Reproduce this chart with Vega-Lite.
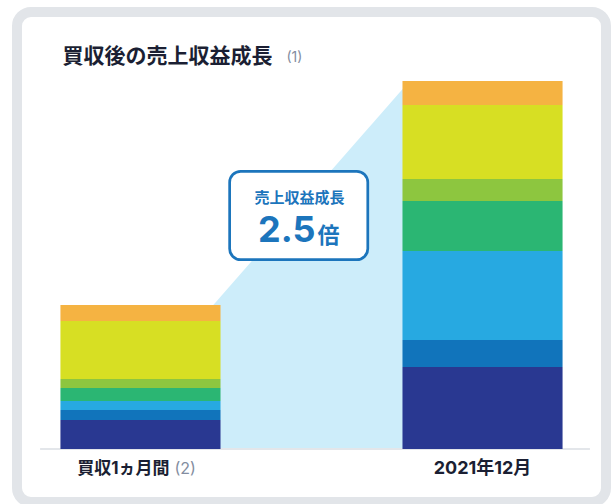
{
  "$schema": "https://vega.github.io/schema/vega-lite/v6.json",
  "width": 589,
  "height": 490,
  "autosize": {"type": "none"},
  "padding": {"left": 17, "top": 12, "right": 7, "bottom": 2},
  "background": "white",
  "config": {
    "view": {"stroke": "#e2e5e9", "strokeWidth": 10, "cornerRadius": 14, "fill": "white"},
    "text": {"font": "Inter, Noto Sans CJK JP"}
  },
  "datasets": {
    "revenue": [
      {"period": "買収1ヵ月間", "segment": "区分1", "k": 1, "value": 29},
      {"period": "買収1ヵ月間", "segment": "区分2", "k": 2, "value": 10},
      {"period": "買収1ヵ月間", "segment": "区分3", "k": 3, "value": 9},
      {"period": "買収1ヵ月間", "segment": "区分4", "k": 4, "value": 13},
      {"period": "買収1ヵ月間", "segment": "区分5", "k": 5, "value": 9},
      {"period": "買収1ヵ月間", "segment": "区分6", "k": 6, "value": 58},
      {"period": "買収1ヵ月間", "segment": "区分7", "k": 7, "value": 16},
      {"period": "2021年12月", "segment": "区分1", "k": 1, "value": 82},
      {"period": "2021年12月", "segment": "区分2", "k": 2, "value": 27},
      {"period": "2021年12月", "segment": "区分3", "k": 3, "value": 89},
      {"period": "2021年12月", "segment": "区分4", "k": 4, "value": 50},
      {"period": "2021年12月", "segment": "区分5", "k": 5, "value": 22},
      {"period": "2021年12月", "segment": "区分6", "k": 6, "value": 74},
      {"period": "2021年12月", "segment": "区分7", "k": 7, "value": 24}
    ]
  },
  "resolve": {"scale": {"x": "independent"}},
  "layer": [
    {
      "data": {"name": "revenue"},
      "transform": [{"aggregate": [{"op": "sum", "field": "value", "as": "total"}], "groupby": ["period"]}],
      "mark": {"type": "area", "color": "#cdedfa", "opacity": 1},
      "encoding": {
        "x": {"field": "period", "type": "nominal", "scale": {"type": "point", "domain": ["買収1ヵ月間", "2021年12月"], "padding": 1.118}, "axis": null},
        "y": {"field": "total", "type": "quantitative", "scale": {"domain": [-53, 437]}, "axis": null},
        "y2": {"datum": 0}
      }
    },
    {
      "layer": [
        {
          "data": {"values": [{"line": "baseline"}]},
          "mark": {"type": "rule", "color": "#e3e6ea", "strokeWidth": 2},
          "encoding": {
            "x": {"datum": "買収1ヵ月間", "type": "nominal", "bandPosition": -0.127, "scale": {"type": "band", "domain": ["買収1ヵ月間", "2021年12月"], "paddingInner": 0.532, "paddingOuter": 0.127}, "axis": null},
            "x2": {"datum": "2021年12月", "bandPosition": 1.171},
            "y": {"datum": 0, "type": "quantitative", "scale": {"domain": [-53, 437]}, "axis": null}
          }
        },
        {
          "data": {"name": "revenue"},
          "mark": {"type": "bar"},
          "encoding": {
            "x": {"field": "period", "type": "nominal", "scale": {"type": "band", "domain": ["買収1ヵ月間", "2021年12月"], "paddingInner": 0.532, "paddingOuter": 0.127}, "axis": null},
            "y": {"field": "value", "type": "quantitative", "stack": "zero", "scale": {"domain": [-53, 437]}, "axis": null},
            "color": {"field": "segment", "type": "nominal", "legend": null, "scale": {"domain": ["区分1", "区分2", "区分3", "区分4", "区分5", "区分6", "区分7"], "range": ["#293891", "#1174bb", "#27a9e1", "#2bb673", "#8dc63f", "#d7df23", "#f5b342"]}},
            "order": {"field": "k", "type": "quantitative"}
          }
        },
        {
          "data": {"values": [{"label": "売上収益成長", "growth": "2.5", "unit": "倍"}]},
          "layer": [
            {
              "mark": {"type": "rect", "fill": "white", "stroke": "#1c75bc", "strokeWidth": 2.7, "cornerRadius": 11},
              "encoding": {
                "x": {"datum": "買収1ヵ月間", "type": "nominal", "bandPosition": 1.057, "scale": {"type": "band", "domain": ["買収1ヵ月間", "2021年12月"], "paddingInner": 0.532, "paddingOuter": 0.127}, "axis": null},
                "x2": {"datum": "買収1ヵ月間", "bandPosition": 1.92},
                "y": {"datum": 277.7, "type": "quantitative", "scale": {"domain": [-53, 437]}, "axis": null},
                "y2": {"datum": 189.3}
              }
            },
            {
              "mark": {"type": "text", "align": "center", "baseline": "middle", "fontSize": 15, "fontWeight": "bold", "color": "#1c75bc"},
              "encoding": {
                "x": {"datum": "買収1ヵ月間", "type": "nominal", "bandPosition": 1.493, "scale": {"type": "band", "domain": ["買収1ヵ月間", "2021年12月"], "paddingInner": 0.532, "paddingOuter": 0.127}, "axis": null},
                "y": {"datum": 251.5, "type": "quantitative", "scale": {"domain": [-53, 437]}, "axis": null},
                "text": {"field": "label"}
              }
            },
            {
              "mark": {"type": "text", "align": "right", "baseline": "alphabetic", "fontSize": 36, "fontWeight": "bold", "color": "#1c75bc", "dx": 16},
              "encoding": {
                "x": {"datum": "買収1ヵ月間", "type": "nominal", "bandPosition": 1.493, "scale": {"type": "band", "domain": ["買収1ヵ月間", "2021年12月"], "paddingInner": 0.532, "paddingOuter": 0.127}, "axis": null},
                "y": {"datum": 207, "type": "quantitative", "scale": {"domain": [-53, 437]}, "axis": null},
                "text": {"field": "growth"}
              }
            },
            {
              "mark": {"type": "text", "align": "left", "baseline": "alphabetic", "fontSize": 22, "fontWeight": "bold", "color": "#1c75bc", "dx": 18},
              "encoding": {
                "x": {"datum": "買収1ヵ月間", "type": "nominal", "bandPosition": 1.493, "scale": {"type": "band", "domain": ["買収1ヵ月間", "2021年12月"], "paddingInner": 0.532, "paddingOuter": 0.127}, "axis": null},
                "y": {"datum": 206, "type": "quantitative", "scale": {"domain": [-53, 437]}, "axis": null},
                "text": {"field": "unit"}
              }
            }
          ]
        },
        {
          "data": {"values": [{"title": "買収後の売上収益成長", "note": "(1)"}]},
          "layer": [
            {
              "mark": {"type": "text", "align": "left", "baseline": "middle", "fontSize": 21, "fontWeight": "bold", "color": "#1b1f33", "dx": 2},
              "encoding": {
                "x": {"datum": "買収1ヵ月間", "type": "nominal", "bandPosition": 0, "scale": {"type": "band", "domain": ["買収1ヵ月間", "2021年12月"], "paddingInner": 0.532, "paddingOuter": 0.127}, "axis": null},
                "y": {"datum": 392, "type": "quantitative", "scale": {"domain": [-53, 437]}, "axis": null},
                "text": {"field": "title"}
              }
            },
            {
              "mark": {"type": "text", "align": "left", "baseline": "middle", "fontSize": 14, "fontWeight": "normal", "color": "#838da0", "dx": 226},
              "encoding": {
                "x": {"datum": "買収1ヵ月間", "type": "nominal", "bandPosition": 0, "scale": {"type": "band", "domain": ["買収1ヵ月間", "2021年12月"], "paddingInner": 0.532, "paddingOuter": 0.127}, "axis": null},
                "y": {"datum": 391, "type": "quantitative", "scale": {"domain": [-53, 437]}, "axis": null},
                "text": {"field": "note"}
              }
            }
          ]
        },
        {
          "data": {"values": [{"period": "買収1ヵ月間", "label": "買収1ヵ月間", "note": "(2)"}]},
          "layer": [
            {
              "mark": {"type": "text", "align": "right", "baseline": "middle", "fontSize": 17, "fontWeight": "bold", "color": "#1b1f33", "dx": 29},
              "encoding": {
                "x": {"field": "period", "type": "nominal", "bandPosition": 0.5, "scale": {"type": "band", "domain": ["買収1ヵ月間", "2021年12月"], "paddingInner": 0.532, "paddingOuter": 0.127}, "axis": null},
                "y": {"datum": -20, "type": "quantitative", "scale": {"domain": [-53, 437]}, "axis": null},
                "text": {"field": "label"}
              }
            },
            {
              "mark": {"type": "text", "align": "left", "baseline": "middle", "fontSize": 16, "fontWeight": "normal", "color": "#838da0", "dx": 34},
              "encoding": {
                "x": {"field": "period", "type": "nominal", "bandPosition": 0.5, "scale": {"type": "band", "domain": ["買収1ヵ月間", "2021年12月"], "paddingInner": 0.532, "paddingOuter": 0.127}, "axis": null},
                "y": {"datum": -20, "type": "quantitative", "scale": {"domain": [-53, 437]}, "axis": null},
                "text": {"field": "note"}
              }
            }
          ]
        },
        {
          "data": {"values": [{"period": "2021年12月", "label": "2021年12月"}]},
          "mark": {"type": "text", "align": "center", "baseline": "middle", "fontSize": 18, "fontWeight": "bold", "color": "#1b1f33"},
          "encoding": {
            "x": {"field": "period", "type": "nominal", "bandPosition": 0.5, "scale": {"type": "band", "domain": ["買収1ヵ月間", "2021年12月"], "paddingInner": 0.532, "paddingOuter": 0.127}, "axis": null},
            "y": {"datum": -20, "type": "quantitative", "scale": {"domain": [-53, 437]}, "axis": null},
            "text": {"field": "label"}
          }
        }
      ]
    }
  ]
}
